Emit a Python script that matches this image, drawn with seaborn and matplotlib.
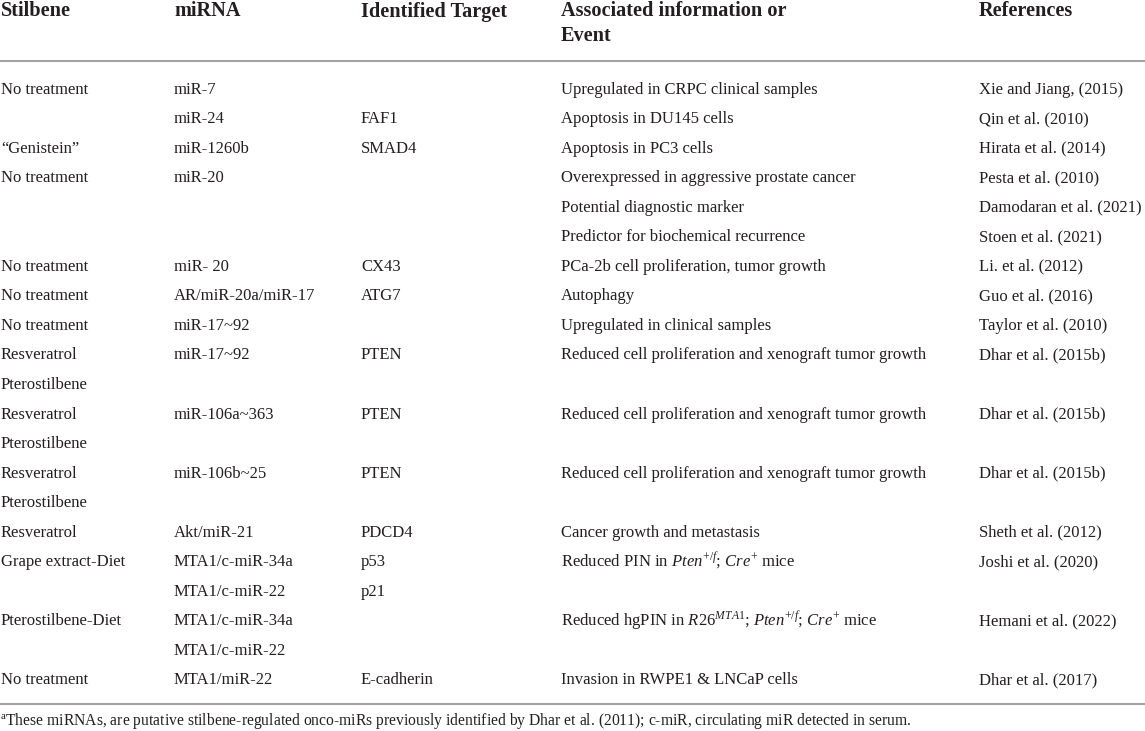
import pandas as pd
import matplotlib
matplotlib.use("Agg")
import matplotlib.pyplot as plt
import seaborn as sns

sns.set_theme(style="white")
plt.rcParams["font.family"] = ["Liberation Serif", "DejaVu Serif"]
plt.rcParams["mathtext.fontset"] = "custom"
plt.rcParams["mathtext.rm"] = "Liberation Serif"
plt.rcParams["mathtext.it"] = "Liberation Serif:italic"
plt.rcParams["mathtext.bf"] = "Liberation Serif:bold"

# table content
headers = ["Stilbene", "miRNA", "Identified Target", "Associated information or\nEvent", "References"]

stilbene = ["No treatment", "", "\u201cGenistein\u201d", "No treatment", "", "", "No treatment",
            "No treatment", "No treatment", "Resveratrol", "Pterostilbene", "Resveratrol",
            "Pterostilbene", "Resveratrol", "Pterostilbene", "Resveratrol", "Grape extract-Diet",
            "", "Pterostilbene-Diet", "", "No treatment"]
mirna = ["miR-7", "miR-24", "miR-1260b", "miR-20", "", "", "miR- 20", "AR/miR-20a/miR-17",
         "miR-17~92", "miR-17~92", "", "miR-106a~363", "", "miR-106b~25", "", "Akt/miR-21",
         "MTA1/c-miR-34a", "MTA1/c-miR-22", "MTA1/c-miR-34a", "MTA1/c-miR-22", "MTA1/miR-22"]
target = ["", "FAF1", "SMAD4", "", "", "", "CX43", "ATG7", "", "PTEN", "", "PTEN", "", "PTEN", "",
          "PDCD4", "p53", "p21", "", "", "E-cadherin"]
info = ["Upregulated in CRPC clinical samples",
        "Apoptosis in DU145 cells",
        "Apoptosis in PC3 cells",
        "Overexpressed in aggressive prostate cancer",
        "Potential diagnostic marker",
        "Predictor for biochemical recurrence",
        "PCa-2b cell proliferation, tumor growth",
        "Autophagy",
        "Upregulated in clinical samples",
        "Reduced cell proliferation and xenograft tumor growth",
        "",
        "Reduced cell proliferation and xenograft tumor growth",
        "",
        "Reduced cell proliferation and xenograft tumor growth",
        "",
        "Cancer growth and metastasis",
        r"Reduced PIN in $\mathit{Pten}^{+/f}$; $\mathit{Cre}^{+}$ mice",
        "",
        r"Reduced hgPIN in $\mathit{R26}^{\mathit{MTA1}}$; $\mathit{Pten}^{+/f}$; $\mathit{Cre}^{+}$ mice",
        "",
        "Invasion in RWPE1 & LNCaP cells"]
references = ["Xie and Jiang, (2015)", "Qin et al. (2010)", "Hirata et al. (2014)", "Pesta et al. (2010)",
              "Damodaran et al. (2021)", "Stoen et al. (2021)", "Li. et al. (2012)", "Guo et al. (2016)",
              "Taylor et al. (2010)", "Dhar et al. (2015b)", "", "Dhar et al. (2015b)", "",
              "Dhar et al. (2015b)", "", "Sheth et al. (2012)", "Joshi et al. (2020)", "",
              "Hemani et al. (2022)", "", "Dhar et al. (2017)"]
footnote = (r"$^{\mathrm{a}}$These miRNAs, are putative stilbene-regulated onco-miRs previously "
            r"identified by Dhar et al. (2011); c-miR, circulating miR detected in serum.")

table = pd.DataFrame({"Stilbene": stilbene, "miRNA": mirna, "Target": target,
                      "Info": info, "References": references})

col_x = [1, 174, 361, 561, 979]
row0, row_step = 88, 29.55
ink = "#231f20"
rule = "#a3a3a3"

fig = plt.figure(figsize=(11.45, 7.31), dpi=100)
ax = fig.add_axes([0, 0, 1, 1])
ax.set_xlim(0, 1145)
ax.set_ylim(731, 0)
ax.axis("off")

# header, one text per line so baselines are exact
for x, h in zip(col_x, headers):
    for k, line in enumerate(h.split("\n")):
        ax.text(x, 16.5 + k * 24.5, line, fontsize=14.6, fontweight="bold", color=ink,
                va="baseline", ha="left")

ax.axhline(61, color=rule, lw=1.5)
ax.axhline(704, color=rule, lw=1.5)

for i, row in enumerate(table.itertuples(index=False)):
    y = row0 + i * row_step + 5.5
    for x, val in zip(col_x, row):
        if val:
            ax.text(x, y, val, fontsize=12, color=ink, va="baseline", ha="left")

ax.text(0, 725, footnote, fontsize=11.25, color=ink, va="baseline", ha="left")

fig.savefig("out.png", dpi=100)
